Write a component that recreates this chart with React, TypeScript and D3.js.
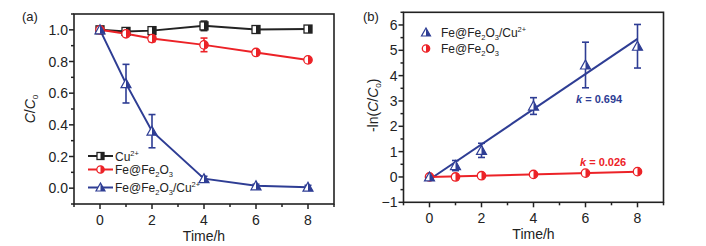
import React from "react";
import * as d3 from "d3";

const timesA = [0, 1, 2, 4, 6, 8];
const cuVals = [1.0, 0.99, 0.995, 1.025, 1.002, 1.005];
const cuErr = [0.005, 0.01, 0.01, 0.03, 0.01, 0.01];
const feVals = [1.0, 0.975, 0.945, 0.905, 0.857, 0.81];
const feErr = [0.005, 0.01, 0.02, 0.043, 0.01, 0.01];
const feCuVals = [1.0, 0.66, 0.36, 0.06, 0.015, 0.006];
const feCuErr = [0.005, 0.122, 0.105, 0.015, 0.01, 0.012];

const timesB = [0, 1, 2, 4, 6, 8];
const lnFeCu = [0, 0.45, 1.05, 2.8, 4.42, 5.16];
const lnFeCuErr = [0.02, 0.2, 0.28, 0.33, 0.9, 0.86];
const lnFe = [0, 0.0, 0.05, 0.1, 0.15, 0.21];
const lnFeErr = [0.02, 0.1, 0.1, 0.07, 0.07, 0.07];
const fitFeCu = { k: 0.694, b: -0.1 };
const fitFe = { k: 0.026, b: 0.0 };

const xTicks = [0, 2, 4, 6, 8];
const xMinor = [-1, 1, 3, 5, 7, 9];
const yTicksA = [0, 0.2, 0.4, 0.6, 0.8, 1.0];
const yMinorA = [-0.1, 0.1, 0.3, 0.5, 0.7, 0.9, 1.1];
const yTicksB = [-1, 0, 1, 2, 3, 4, 5, 6];
const yMinorB = [-0.5, 0.5, 1.5, 2.5, 3.5, 4.5, 5.5, 6.5];

const BLACK = "#222222";
const RED = "#ec2227";
const BLUE = "#2e3d94";
const FONT = "Liberation Sans, Arial, sans-serif";

type Shape = "square" | "circle" | "triangle";

function Marker({ shape, cx, cy, color, s = 9 }: { shape: Shape; cx: number; cy: number; color: string; s?: number }) {
  const h = s / 2;
  if (shape === "square") {
    return (
      <g>
        <rect x={cx - h + 0.5} y={cy - h + 0.5} width={s - 1} height={s - 1} fill="#fff" stroke={color} strokeWidth={1.3} />
        <rect x={cx} y={cy - h + 0.5} width={h - 0.5} height={s - 1} fill={color} />
      </g>
    );
  }
  if (shape === "circle") {
    const r = h - 0.3;
    return (
      <g>
        <circle cx={cx} cy={cy} r={r} fill="#fff" stroke={color} strokeWidth={1.3} />
        <path d={`M${cx},${cy - r} A${r},${r} 0 0 1 ${cx},${cy + r} Z`} fill={color} />
      </g>
    );
  }
  const top = cy - h - 0.5;
  const bot = cy + h - 0.5;
  return (
    <g>
      <path d={`M${cx},${top} L${cx + h + 0.5},${bot} L${cx - h - 0.5},${bot} Z`} fill="#fff" stroke={color} strokeWidth={1.2} strokeLinejoin="miter" />
      <path d={`M${cx},${top} L${cx + h + 0.5},${bot} L${cx},${bot} Z`} fill={color} />
    </g>
  );
}

function ErrBar({ x, y1, y2, color }: { x: number; y1: number; y2: number; color: string }) {
  return (
    <g stroke={color} strokeWidth={1.6}>
      <line x1={x} x2={x} y1={y1} y2={y2} />
      <line x1={x - 3.5} x2={x + 3.5} y1={y1} y2={y1} />
      <line x1={x - 3.5} x2={x + 3.5} y1={y2} y2={y2} />
    </g>
  );
}

function Frame({ x, y, yTicks, yMinor, fmt }: any) {
  const [x0, x1] = x.range();
  const [y0, y1] = y.range();
  return (
    <g>
      <rect x={x0} y={y1} width={x1 - x0} height={y0 - y1} fill="none" stroke={BLACK} strokeWidth={1.6} />
      {xTicks.map((t: number) => (
        <g key={"xt" + t}>
          <line x1={x(t)} x2={x(t)} y1={y0} y2={y0 + 5} stroke={BLACK} strokeWidth={1.5} />
          <text x={x(t)} y={y0 + 21} textAnchor="middle" fontSize={14} fontFamily={FONT} fill={BLACK}>{t}</text>
        </g>
      ))}
      {xMinor.map((t: number) => (
        <line key={"xm" + t} x1={x(t)} x2={x(t)} y1={y0} y2={y0 + 3} stroke={BLACK} strokeWidth={1.5} />
      ))}
      {yTicks.map((t: number) => (
        <g key={"yt" + t}>
          <line x1={x0 - 5} x2={x0} y1={y(t)} y2={y(t)} stroke={BLACK} strokeWidth={1.5} />
          <text x={x0 - 6} y={y(t) + 5} textAnchor="end" fontSize={14} fontFamily={FONT} fill={BLACK}>{fmt(t)}</text>
        </g>
      ))}
      {yMinor.map((t: number) => (
        <line key={"ym" + t} x1={x0 - 3} x2={x0} y1={y(t)} y2={y(t)} stroke={BLACK} strokeWidth={1.5} />
      ))}
      <text x={(x0 + x1) / 2} y={y0 + 37} textAnchor="middle" fontSize={14} fontFamily={FONT} fill={BLACK}>Time/h</text>
    </g>
  );
}

export default function App() {
  const xA = d3.scaleLinear().domain([-1, 9]).range([74, 334]);
  const yA = d3.scaleLinear().domain([-0.1, 1.1]).range([204, 14]);
  const xB = d3.scaleLinear().domain([-1, 9]).range([403.5, 663.5]);
  const yB = d3.scaleLinear().domain([-1, 6.5]).range([202.3, 12.3]);

  const lineA = (vals: number[]) =>
    d3.line<number>().x((_, i) => xA(timesA[i])).y((v) => yA(v))(vals) || "";

  const seriesA = [
    { vals: cuVals, err: cuErr, color: BLACK, shape: "square" as Shape },
    { vals: feVals, err: feErr, color: RED, shape: "circle" as Shape },
    { vals: feCuVals, err: feCuErr, color: BLUE, shape: "triangle" as Shape },
  ];

  const fitLine = (f: { k: number; b: number }) =>
    d3.line<number>().x((t) => xB(t)).y((t) => yB(f.k * t + f.b))([0, 8]) || "";

  return (
    <svg width={706} height={246} style={{ position: "absolute", left: 0, top: 0, background: "#fff" }}>
      <rect x={0} y={0} width={706} height={246} fill="#fff" />
      {/* Panel a */}
      <text x={22} y={21} fontSize={13} fontFamily={FONT} fill={BLACK}>(a)</text>
      <Frame x={xA} y={yA} yTicks={yTicksA} yMinor={yMinorA} fmt={d3.format(".1f")} />
      <text transform={`translate(35,${(14 + 204) / 2}) rotate(-90)`} textAnchor="middle" fontSize={14} fontFamily={FONT} fill={BLACK}>
        <tspan fontStyle="italic">C</tspan>/<tspan fontStyle="italic">C</tspan>
        <tspan fontSize={8} dy={3}>0</tspan>
      </text>
      {seriesA.map((s, si) => (
        <g key={"sa" + si}>
          <path d={lineA(s.vals)} fill="none" stroke={s.color} strokeWidth={2} />
          {s.vals.map((v, i) => (
            <ErrBar key={"e" + i} x={xA(timesA[i])} y1={yA(v + s.err[i])} y2={yA(v - s.err[i])} color={s.color} />
          ))}
        </g>
      ))}
      {seriesA.map((s, si) => (
        <g key={"ma" + si}>
          {s.vals.map((v, i) => (
            <Marker key={"m" + i} shape={s.shape} cx={xA(timesA[i])} cy={yA(v)} color={s.color} />
          ))}
        </g>
      ))}
      {/* legend a */}
      {[
        { y: 156, color: BLACK, shape: "square" as Shape, label: <><tspan>Cu</tspan><tspan fontSize={7.5} dy={-5}>2+</tspan></> },
        { y: 169.5, color: RED, shape: "circle" as Shape, label: <><tspan>Fe@Fe</tspan><tspan fontSize={7.5} dy={3}>2</tspan><tspan dy={-3}>O</tspan><tspan fontSize={7.5} dy={3}>3</tspan></> },
        { y: 187.5, color: BLUE, shape: "triangle" as Shape, label: <><tspan>Fe@Fe</tspan><tspan fontSize={7.5} dy={3}>2</tspan><tspan dy={-3}>O</tspan><tspan fontSize={7.5} dy={3}>3</tspan><tspan dy={-3}>/Cu</tspan><tspan fontSize={7.5} dy={-5}>2+</tspan></> },
      ].map((l, i) => (
        <g key={"la" + i}>
          <line x1={88} x2={113} y1={l.y} y2={l.y} stroke={l.color} strokeWidth={2} />
          <Marker shape={l.shape} cx={100.5} cy={l.y} color={l.color} s={8} />
          <text x={115} y={l.y + 4.5} fontSize={12} fontFamily={FONT} fill={BLACK}>{l.label}</text>
        </g>
      ))}

      {/* Panel b */}
      <text x={363} y={21} fontSize={13} fontFamily={FONT} fill={BLACK}>(b)</text>
      <Frame x={xB} y={yB} yTicks={yTicksB} yMinor={yMinorB} fmt={d3.format("d")} />
      <text transform={`translate(378,${(12.3 + 202.3) / 2 - 2}) rotate(-90)`} textAnchor="middle" fontSize={14} fontFamily={FONT} fill={BLACK}>
        -ln(<tspan fontStyle="italic">C</tspan>/<tspan fontStyle="italic">C</tspan>
        <tspan fontSize={8} dy={3}>0</tspan><tspan dy={-3}>)</tspan>
      </text>
      <path d={fitLine(fitFeCu)} stroke={BLUE} strokeWidth={2} fill="none" />
      <path d={fitLine(fitFe)} stroke={RED} strokeWidth={2} fill="none" />
      {lnFeCu.map((v, i) => (
        <ErrBar key={"eb" + i} x={xB(timesB[i])} y1={yB(v + lnFeCuErr[i])} y2={yB(v - lnFeCuErr[i])} color={BLUE} />
      ))}
      {lnFe.map((v, i) => (
        <ErrBar key={"er" + i} x={xB(timesB[i])} y1={yB(v + lnFeErr[i])} y2={yB(v - lnFeErr[i])} color={RED} />
      ))}
      {lnFe.map((v, i) => (
        <Marker key={"mr" + i} shape="circle" cx={xB(timesB[i])} cy={yB(v)} color={RED} />
      ))}
      {lnFeCu.map((v, i) => (
        <Marker key={"mb" + i} shape="triangle" cx={xB(timesB[i])} cy={yB(v)} color={BLUE} />
      ))}
      <text x={576} y={103} fontSize={11} fontWeight="bold" fontFamily={FONT} fill={BLUE}>
        <tspan fontStyle="italic">k</tspan> = {fitFeCu.k.toFixed(3)}
      </text>
      <text x={580} y={166} fontSize={11} fontWeight="bold" fontFamily={FONT} fill={RED}>
        <tspan fontStyle="italic">k</tspan> = {fitFe.k.toFixed(3)}
      </text>
      {/* legend b */}
      <Marker shape="triangle" cx={426} cy={32.5} color={BLUE} s={8} />
      <text x={441} y={37} fontSize={12} fontFamily={FONT} fill={BLACK}>
        <tspan>Fe@Fe</tspan><tspan fontSize={7.5} dy={3}>2</tspan><tspan dy={-3}>O</tspan><tspan fontSize={7.5} dy={3}>3</tspan><tspan dy={-3}>/Cu</tspan><tspan fontSize={7.5} dy={-5}>2+</tspan>
      </text>
      <Marker shape="circle" cx={426} cy={48.5} color={RED} s={8} />
      <text x={441} y={53} fontSize={12} fontFamily={FONT} fill={BLACK}>
        <tspan>Fe@Fe</tspan><tspan fontSize={7.5} dy={3}>2</tspan><tspan dy={-3}>O</tspan><tspan fontSize={7.5} dy={3}>3</tspan>
      </text>
    </svg>
  );
}
